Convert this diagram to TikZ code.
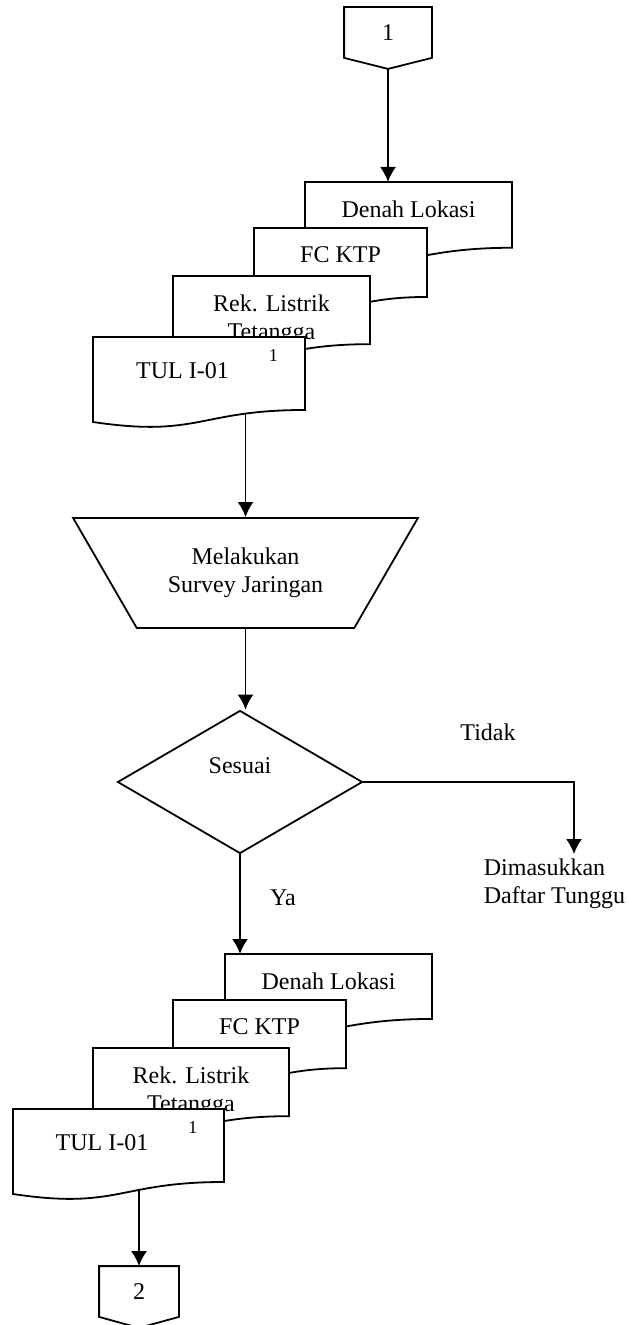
\documentclass[tikz,border=0pt]{standalone}
\usepackage{fontspec}
\setmainfont{Liberation Serif}
\usepackage{tikz}
\usetikzlibrary{backgrounds}
\usetikzlibrary{arrows.meta}
\usetikzlibrary{shapes.geometric}
\tikzstyle{flow}=[x=0.5pt, y=-0.5pt, line width=0.9pt, font=\fontsize{12}{14}\selectfont]
\tikzstyle{doc}=[draw, fill=white]
\tikzstyle{doctext}=[anchor=north, inner sep=0pt, align=center]
\tikzstyle{offpage}=[rectangle, inner sep=0pt, minimum height=24.5pt]
\tikzstyle{manual}=[trapezium, shape border rotate=180, trapezium left angle=52, trapezium right angle=52, trapezium stretches=true, draw, fill=white, minimum width=172.5pt, minimum height=55pt, align=center]
\tikzstyle{decision}=[diamond, draw, fill=white, minimum width=122.5pt, minimum height=71.5pt, inner sep=0pt]
\tikzstyle{edge}=[line width=0.9pt, -{Latex[length=7.5pt, width=8pt]}]
\tikzstyle{note}=[inner sep=0pt]
\newcommand{\supOne}{\raisebox{8.5pt}{\fontsize{9}{10}\selectfont 1}}
% document symbol: [text options]{name}{x}{y}{width}{height}{text}
\newcommand{\docbox}[7][]{%
	\draw[doc] (#3,#4) coordinate (#2-nw) -- (#3+#5,#4) -- (#3+#5,#4+0.802*#6)
		.. controls (#3+0.5*#5,#4+0.802*#6) and (#3+0.5*#5,#4+1.108*#6) .. (#3,#4+0.934*#6) -- cycle;
	\node[doctext,#1] (#2) at (#3+0.5*#5,#4+17.5) {#7};
}
\begin{document}
\begin{tikzpicture}[flow]
	\useasboundingbox (0,0) rectangle (628,1325);
	
	%off-page connector 1
	\node[offpage, minimum width=43pt] (conA) at (388,32.5) {1};
	\draw (conA.north west) -- (conA.north east) -- (conA.south east) -- ([yshift=-5.5pt]conA.south) coordinate (conA-tip) -- (conA.south west) -- cycle;
	
	%first document stack
	\docbox{denahA}{305}{182}{207}{82}{Denah Lokasi}
	\docbox{fcA}{254}{228}{173}{86}{FC KTP}
	\docbox{rekA}{173}{276}{197}{85}{Rek. Listrik\\Tetangga}
	\docbox[xshift=4pt, yshift=2.85pt]{tulA}{93}{337}{212}{91}{TUL I-01\hspace{20pt}\supOne}
	
	\node[manual] (survey) at (245.5,573) {Melakukan\\Survey Jaringan};
	\node[decision, label={[yshift=8pt]center:Sesuai}] (sesuai) at (240,782) {};
	\node[note] (tidak) at (488,732) {Tidak};
	\node[note, anchor=west, align=left] (tunggu) at (483,884) {Dimasukkan\\Daftar Tunggu};
	\coordinate (tungguIn) at (574,854);
	\node[note] (ya) at (283,898) {Ya};
	
	%second document stack
	\docbox{denahB}{225}{954}{207}{81}{Denah Lokasi}
	\docbox{fcB}{173}{1000}{173}{85}{FC KTP}
	\docbox{rekB}{93}{1048}{196}{85}{Rek. Listrik\\Tetangga}
	\docbox[xshift=4pt, yshift=2.85pt]{tulB}{13}{1109}{211}{91}{TUL I-01\hspace{20pt}\supOne}
	
	%off-page connector 2
	\node[offpage, minimum width=39pt] (conB) at (139,1291.5) {2};
	\draw (conB.north west) -- (conB.north east) -- (conB.south east) -- ([yshift=-5.5pt]conB.south) coordinate (conB-tip) -- (conB.south west) -- cycle;
	
	\begin{scope}[on background layer]
		\draw[edge] (conA-tip) -- (conA-tip |- denahA-nw);
		\draw[edge] (tulA -| survey.north) -- (survey.north);
		\draw[edge] (survey.south) -- (survey.south |- sesuai.north);
		\draw[edge] (sesuai.east) -| (tungguIn);
		\draw[edge] (sesuai.south) -- (sesuai.south |- denahB-nw);
		\draw[edge] (tulB -| conB.north) -- (conB.north);
	\end{scope}
\end{tikzpicture}
\end{document}
